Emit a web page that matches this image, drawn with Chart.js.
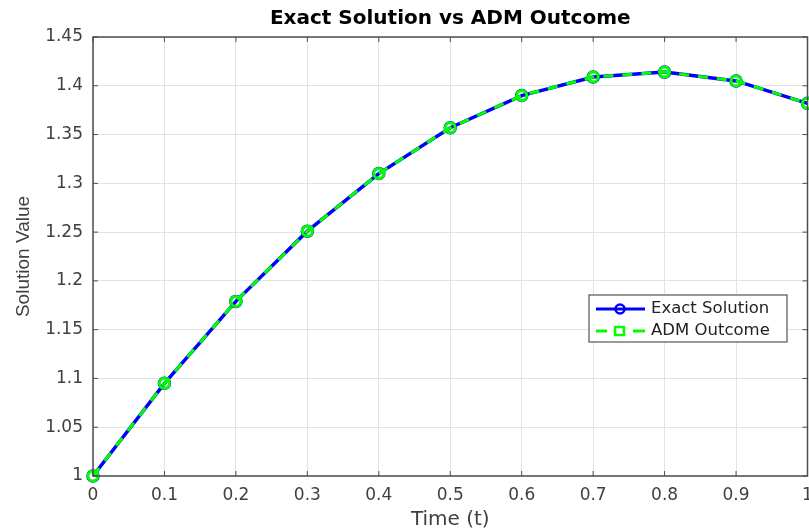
<!DOCTYPE html>
<html>
<head>
<meta charset="utf-8">
<script src="https://cdn.jsdelivr.net/npm/chart.js@4.4.0/dist/chart.umd.min.js"></script>
<style>
  html, body { margin: 0; padding: 0; background: #fff; }
  #box { width: 809px; height: 529px; }
</style>
</head>
<body>
<div id="box"><canvas id="grafico"></canvas></div>
<script>
const tempos = [0, 0.1, 0.2, 0.3, 0.4, 0.5, 0.6, 0.7, 0.8, 0.9, 1];
const exata = [1.0, 1.095, 1.179, 1.251, 1.310, 1.357, 1.390, 1.409, 1.414, 1.405, 1.382];
const adm = [1.0, 1.095, 1.179, 1.251, 1.310, 1.357, 1.390, 1.409, 1.414, 1.405, 1.382];
const legendas = ['Exact Solution', 'ADM Outcome'];

const corEixo = '#4d4d4d';
const corGrade = '#e3e3e3';
const fonte = 'DejaVu Sans';

function pontos(valores) {
    return tempos.map((t, i) => ({ x: t, y: valores[i] }));
}

// moldura e ticks para dentro, estilo matlab
const moldura = {
    id: 'moldura',
    afterDatasetsDraw(chart) {
        const c = chart.ctx;
        const a = chart.chartArea;
        const sx = chart.scales.x;
        const sy = chart.scales.y;
        c.save();
        c.strokeStyle = corEixo;
        c.lineWidth = 1.5;
        c.strokeRect(a.left, a.top, a.right - a.left, a.bottom - a.top);
        c.lineWidth = 1;
        c.beginPath();
        sx.ticks.forEach(t => {
            const x = sx.getPixelForValue(t.value);
            c.moveTo(x, a.bottom); c.lineTo(x, a.bottom - 5);
            c.moveTo(x, a.top); c.lineTo(x, a.top + 5);
        });
        sy.ticks.forEach(t => {
            const y = sy.getPixelForValue(t.value);
            c.moveTo(a.left, y); c.lineTo(a.left + 5, y);
            c.moveTo(a.right, y); c.lineTo(a.right - 5, y);
        });
        c.stroke();
        c.restore();
    },
    afterDraw(chart) {
        // legenda desenhada à mão dentro da área
        const c = chart.ctx;
        const bx = 589, by = 295, bw = 198, bh = 47;
        c.save();
        c.fillStyle = '#fff';
        c.fillRect(bx, by, bw, bh);
        c.strokeStyle = '#555';
        c.lineWidth = 1.2;
        c.strokeRect(bx, by, bw, bh);

        c.font = '16.5px "' + fonte + '"';
        c.textBaseline = 'middle';
        c.fillStyle = '#222';

        let y = 309;
        c.strokeStyle = '#0000ff';
        c.lineWidth = 3;
        c.beginPath(); c.moveTo(596, y); c.lineTo(645, y); c.stroke();
        c.lineWidth = 2.5;
        c.beginPath(); c.arc(620, y, 4.5, 0, Math.PI * 2); c.stroke();
        c.fillText(legendas[0], 651, y);

        y = 331;
        c.strokeStyle = '#00ff00';
        c.lineWidth = 3;
        c.beginPath(); c.moveTo(596, y); c.lineTo(607, y); c.stroke();
        c.beginPath(); c.moveTo(633, y); c.lineTo(645, y); c.stroke();
        c.lineWidth = 2.5;
        c.strokeRect(615, y - 4, 9, 8);
        c.fillText(legendas[1], 651, y);
        c.restore();
    }
};

new Chart(document.getElementById('grafico'), {
    type: 'line',
    data: {
        datasets: [{
            label: legendas[0],
            data: pontos(exata),
            order: 1,
            borderColor: '#0000ff',
            backgroundColor: 'transparent',
            borderWidth: 3.5,
            pointStyle: 'circle',
            pointRadius: 5.5,
            pointBorderWidth: 2.5,
            pointBorderColor: '#0000ff',
            pointBackgroundColor: 'transparent',
            tension: 0
        }, {
            label: legendas[1],
            data: pontos(adm),
            order: 0,
            borderColor: '#00ff00',
            backgroundColor: 'transparent',
            borderWidth: 3,
            borderDash: [10, 9],
            pointStyle: 'circle',
            pointRadius: 5,
            pointBorderWidth: 3,
            pointBorderColor: '#00ff00',
            pointBackgroundColor: 'transparent',
            tension: 0
        }]
    },
    options: {
        responsive: true,
        maintainAspectRatio: false,
        animation: false,
        clip: false,
        layout: { autoPadding: false, padding: { left: 0, right: 1.5, top: 0, bottom: 0 } },
        plugins: {
            legend: { display: false },
            tooltip: { enabled: false },
            title: {
                display: true,
                fullSize: false,
                text: 'Exact Solution vs ADM Outcome',
                color: '#000',
                font: { family: fonte, size: 20, weight: 'bold' },
                padding: { top: 7, bottom: 6 }
            }
        },
        scales: {
            x: {
                type: 'linear',
                min: 0,
                max: 1,
                ticks: {
                    stepSize: 0.1,
                    color: '#404040',
                    padding: 9,
                    maxRotation: 0,
                    font: { family: fonte, size: 17 },
                    callback: v => String(Number(v.toFixed(2)))
                },
                grid: { color: corGrade, drawTicks: false },
                border: { display: false },
                title: {
                    display: true,
                    text: 'Time (t)',
                    color: '#404040',
                    font: { family: fonte, size: 20 },
                    padding: { top: 0, bottom: -3 }
                },
                afterFit: s => { s.height = 53; s.paddingRight = 0; s.paddingLeft = 0; }
            },
            y: {
                min: 1,
                max: 1.45,
                ticks: {
                    stepSize: 0.05,
                    color: '#404040',
                    padding: 10,
                    font: { family: fonte, size: 17 },
                    callback: v => String(Number(v.toFixed(2)))
                },
                grid: { color: corGrade, drawTicks: false },
                border: { display: false },
                title: {
                    display: true,
                    text: 'Solution Value',
                    color: '#404040',
                    font: { family: 'Liberation Sans', size: 19 },
                    padding: { top: 12, bottom: 0 }
                },
                afterFit: s => { s.width = 93; s.paddingTop = 0; s.paddingBottom = 0; }
            }
        }
    },
    plugins: [moldura]
});
</script>
</body>
</html>
